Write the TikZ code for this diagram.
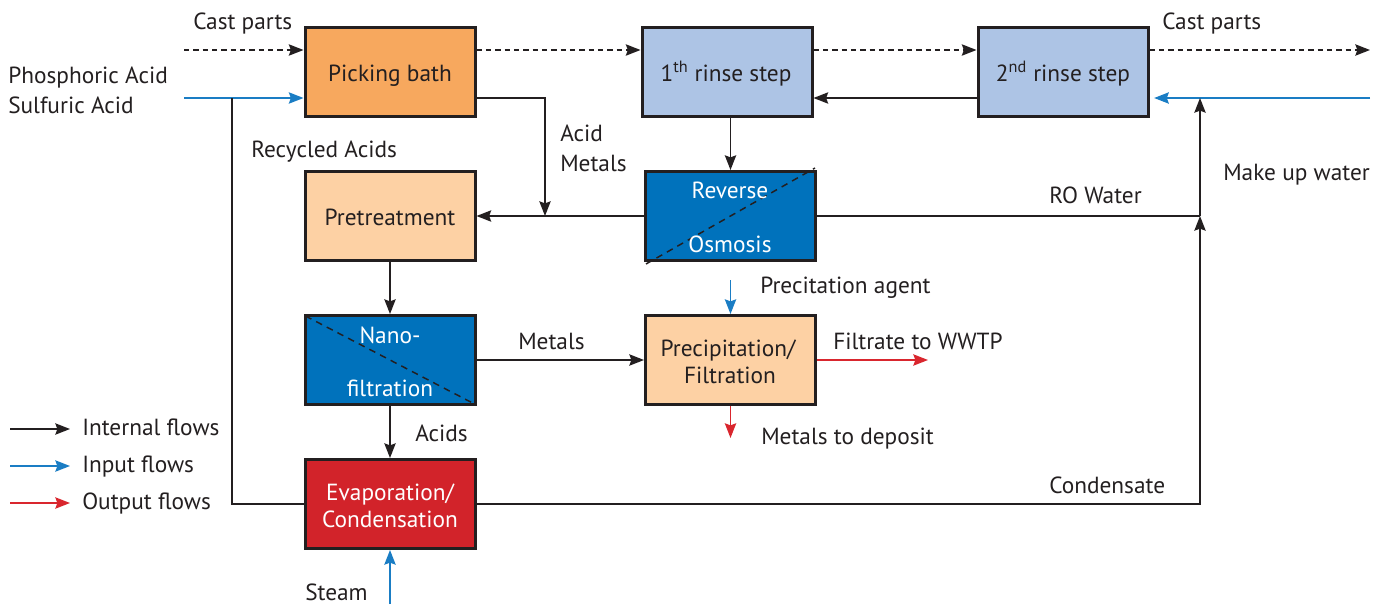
\documentclass[tikz,border=0pt]{standalone}
\usepackage{fontspec}
\setmainfont{PT Sans}
\usetikzlibrary{arrows.meta}
\definecolor{lk}{HTML}{231F20}
\definecolor{cOrange}{HTML}{F7A85E}
\definecolor{cPeach}{HTML}{FDD1A4}
\definecolor{cRinse}{HTML}{ADC4E5}
\definecolor{cBlueBox}{HTML}{0072BC}
\definecolor{cRedBox}{HTML}{D2232A}
\definecolor{cIn}{HTML}{1A7DC4}
\definecolor{cOut}{HTML}{D9262E}
\newcommand\dfont{\fontsize{17.5}{21}\selectfont}
\tikzset{
  every node/.style={font=\dfont, text=lk},
  box/.style={draw=lk, line width=2.25pt, minimum width=127.5pt, minimum height=66.75pt, inner sep=0pt},
  lbl/.style={anchor=base west, inner sep=0pt},
  ctr/.style={anchor=base, inner sep=0pt},
  wctr/.style={anchor=base, inner sep=0pt, text=white},
  tip/.style={-{Stealth[length=11pt,width=8.5pt,inset=1.5pt]}},
  line/.style={draw=lk, line width=1.1pt},
  arr/.style={line, tip},
  darr/.style={arr, dash pattern=on 4pt off 3pt},
  barr/.style={draw=cIn, line width=1.1pt, tip},
  rarr/.style={draw=cOut, line width=1.1pt, tip},
  diag/.style={draw=lk, line width=1.1pt, dash pattern=on 5pt off 4pt},
}
\begin{document}
\begin{tikzpicture}[x=0.75pt, y=-0.75pt]
\useasboundingbox (0,0) rectangle (1389,604);

% boxes
\node[box, fill=cOrange] (PB) at (390,71.5) {};
\node[box, fill=cPeach] (PT) at (390,215.5) {};
\node[box, fill=cRinse] (R1) at (727,71.5) {};
\node[box, fill=cRinse] (R2) at (1063,71.5) {};
\node[box, fill=cBlueBox] (RO) at (730.5,216) {};
\node[box, fill=cBlueBox] (NF) at (390,360) {};
\node[box, fill=cPeach] (PF) at (730.5,360) {};
\node[box, fill=cRedBox] (EV) at (390,504) {};

% diagonals
\draw[diag] ([shift={(1.5pt,-1.5pt)}]RO.south west) -- ([shift={(-1.5pt,1.5pt)}]RO.north east);
\draw[diag] ([shift={(1.5pt,-1.5pt)}]NF.north west) -- ([shift={(-1.5pt,1.5pt)}]NF.south east);

% box texts
\node[ctr] (tPB) at (390,81) {Picking bath};
\node[ctr] (tPT) at (390,225) {Pretreatment};
\node[ctr] (tR1) at (726,81) {1\textsuperscript{th} rinse step};
\node[ctr] (tR2) at (1063,81) {2\textsuperscript{nd} rinse step};
\node[wctr] (tRO1) at (730,198) {Reverse};
\node[wctr] (tRO2) at (730,252) {Osmosis};
\node[wctr] (tNF1) at (390,343) {Nano-};
\node[wctr] (tNF2) at (390,396) {filtration};
\node[wctr] (tEV1) at (390,500) {Evaporation/};
\node[wctr] (tEV2) at (390,527) {Condensation};
\node[ctr] (tPF1) at (728,356) {Precipitation/};
\node[ctr] (tPF2) at (730,383) {Filtration};

% helper coordinates
\coordinate (cp) at (0,50);
\coordinate (ya) at (0,98);
\coordinate (cpin) at (184,50);
\coordinate (cpout) at (1370,50);
\coordinate (acin) at (184,98);
\coordinate (jA) at (232,98);
\coordinate (am) at (545,98);
\coordinate (jR) at (1200,216);
\coordinate (muin) at (1370,98);
\coordinate (pa) at (730.5,280);
\coordinate (fw) at (928,360);
\coordinate (md) at (730.5,438);
\coordinate (st) at (390,604);

% cast parts
\draw[darr] (cpin) -- (cpin -| PB.west);
\draw[darr] (PB.east |- cp) -- (R1.west |- cp);
\draw[darr] (R1.east |- cp) -- (R2.west |- cp);
\draw[darr] (R2.east |- cp) -- (cpout);

% acids input
\draw[barr] (acin) -- (acin -| PB.west);
\draw[line] (EV.west) -| (jA);

% acid metals
\draw[arr] (PB.east |- ya) -- (am) -- (am |- RO.west);
\draw[arr] (RO.west) -- (RO.west -| PT.east);

% rinse
\draw[arr] (RO.north |- R1.south) -- (RO.north);
\draw[arr] (R2.west |- ya) -- (R1.east |- ya);
\draw[barr, shorten >=3.5pt] (muin) -- (R2.east |- ya);

% RO water and condensate
\draw[line] (RO.east) -- (jR);
\draw[arr] (EV.east) -- (EV.east -| jR) -- (jR);
\draw[arr] (jR) -- (jR |- ya);

% vertical internal flows
\draw[arr] (PT.south) -- (NF.north);
\draw[arr] (NF.south) -- (EV.north);
\draw[arr] (NF.east) -- (PF.west);

% precipitation
\draw[barr] (pa) -- (PF.north);
\draw[rarr] (PF.east) -- (fw);
\draw[rarr] (PF.south) -- (md);
\draw[barr] (st) -- (EV.south);

% labels
\node[lbl] (l1) at (193,29) {Cast parts};
\node[lbl] (l2) at (1162,29) {Cast parts};
\node[lbl] (l3) at (8,83) {Phosphoric Acid};
\node[lbl] (l4) at (8,113) {Sulfuric Acid};
\node[lbl] (l5) at (251,157) {Recycled Acids};
\node[lbl] (l6) at (560,141) {Acid};
\node[lbl] (l7) at (560,171) {Metals};
\node[lbl] (l8) at (1223,180) {Make up water};
\node[lbl] (l9) at (1049,203) {RO Water};
\node[lbl] (l10) at (760,293) {Precitation agent};
\node[lbl] (l11) at (518,349) {Metals};
\node[lbl] (l12) at (833,349) {Filtrate to WWTP};
\node[lbl] (l13) at (761,444) {Metals to deposit};
\node[lbl] (l14) at (415,441) {Acids};
\node[lbl] (l15) at (305,600) {Steam};
\node[lbl] (l16) at (1049,493) {Condensate};

% legend
\coordinate (g1a) at (10,429); \coordinate (g1b) at (70,429);
\coordinate (g2a) at (10,466); \coordinate (g2b) at (70,466);
\coordinate (g3a) at (10,503); \coordinate (g3b) at (70,503);
\draw[arr] (g1a) -- (g1b);
\draw[barr] (g2a) -- (g2b);
\draw[rarr] (g3a) -- (g3b);
\node[lbl] (lg1) at (82,435) {Internal flows};
\node[lbl] (lg2) at (82,472) {Input flows};
\node[lbl] (lg3) at (82,509) {Output flows};
\end{tikzpicture}
\end{document}
